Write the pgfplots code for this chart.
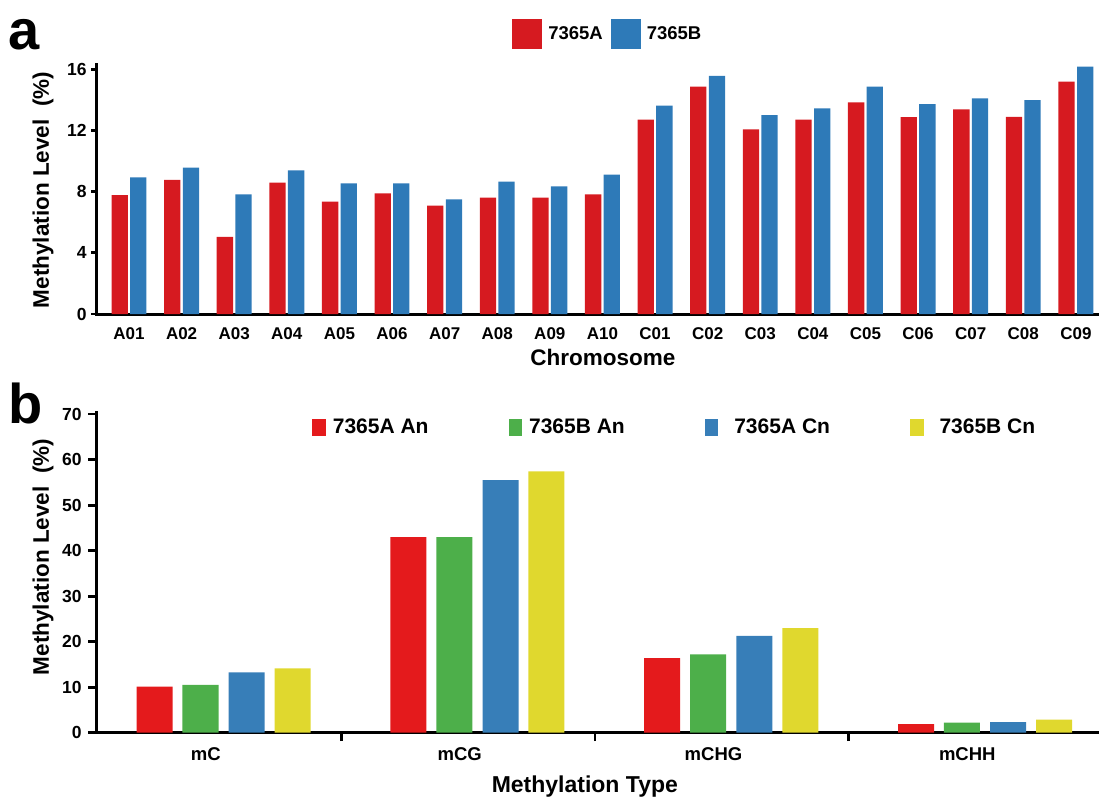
\documentclass[border=0pt]{standalone}
\usepackage{fontspec}
\setmainfont{Liberation Sans}
\usepackage{pgfplots}
\pgfplotsset{compat=1.18}
\definecolor{topred}{RGB}{214,26,32}
\definecolor{topblue}{RGB}{46,122,184}
\definecolor{bred}{RGB}{228,26,28}
\definecolor{bgreen}{RGB}{77,175,74}
\definecolor{bblue}{RGB}{55,126,184}
\definecolor{byellow}{RGB}{224,216,46}
\newcommand{\fs}[1]{\fontsize{#1}{#1}\selectfont\bfseries}
\begin{document}
\begin{tikzpicture}
\useasboundingbox (0,0) rectangle (1099pt,-797pt);
\node[anchor=base west, inner sep=0pt, font=\fs{56}] at (8pt,-49.5pt) {a};
\node[anchor=base west, inner sep=0pt, font=\fs{56}] at (8pt,-423pt) {b};

% ---------------- panel a ----------------
\begin{axis}[
  at={(96.7pt,-314pt)}, anchor=south west,
  scale only axis, width=1002.3pt, height=250pt,
  xmin=-0.614, xmax=18.44, ymin=0, ymax=16.35,
  axis lines*=left,
  axis line style={line width=3pt, line cap=rect},
  ytick={0,4,8,12,16},
  xtick={0,...,18},
  xticklabels={A01,A02,A03,A04,A05,A06,A07,A08,A09,A10,C01,C02,C03,C04,C05,C06,C07,C08,C09},
  every tick/.style={line width=2.8pt, black},
  xtick style={draw=none},
  tick align=outside, major tick length=5.5pt,
  /pgf/number format/assume math mode=true,
  yticklabel style={font=\fs{17.5}, xshift=-1pt},
  xticklabel style={font=\fs{17}, yshift=-5pt},
  xlabel={Chromosome},
  xlabel style={at={(axis description cs:0.505,-0.172)}, anchor=center, font=\fs{22.5}},
  ylabel={Methylation Level~~(\%)},
  ylabel style={at={(axis description cs:-0.0536,0.496)}, anchor=center, rotate=0, font=\fs{22.5}},
  ybar, bar width=0.31,
  legend columns=2,
  legend image code/.code={\fill[#1,draw=none] (0pt,-15pt) rectangle (30pt,15pt);},
  legend style={at={(axis description cs:0.4146,1.12)}, anchor=west, draw=none, fill=none,
    inner sep=0pt, outer sep=0pt, font=\fs{18.5},
    nodes={inner sep=0pt}, cells={anchor=west},
    /tikz/every odd column/.append style={column sep=6pt},
    /tikz/every even column/.append style={column sep=8pt}},
]
\addplot[fill=topred, draw=none, bar shift=-0.177] coordinates {
(0,7.78) (1,8.77) (2,5.04) (3,8.60) (4,7.35) (5,7.89) (6,7.08) (7,7.61) (8,7.61) (9,7.83)
(10,12.72) (11,14.87) (12,12.08) (13,12.72) (14,13.84) (15,12.87) (16,13.38) (17,12.89) (18,15.20)};
\addplot[fill=topblue, draw=none, bar shift=0.177] coordinates {
(0,8.93) (1,9.58) (2,7.83) (3,9.39) (4,8.55) (5,8.55) (6,7.50) (7,8.66) (8,8.35) (9,9.12)
(10,13.62) (11,15.57) (12,13.00) (13,13.44) (14,14.87) (15,13.73) (16,14.10) (17,13.99) (18,16.18)};
\legend{7365A,7365B}
\end{axis}

% ---------------- panel b ----------------
\begin{axis}[
  at={(96.7pt,-732.7pt)}, anchor=south west,
  scale only axis, width=1002.3pt, height=320pt,
  xmin=-0.5, xmax=3.449, ymin=0, ymax=70.3,
  axis lines*=left,
  axis line style={line width=3pt, line cap=rect},
  ytick={0,10,...,70},
  xtick={0.463,1.463,2.463},
  xticklabels={},
  extra x ticks={-0.07,0.93,1.93,2.93},
  extra x tick labels={mC,mCG,mCHG,mCHH},
  extra x tick style={major tick length=0pt, xtick style={draw=none}, xticklabel style={yshift=-11pt}},
  every tick/.style={line width=2.8pt, black},
  tick align=outside, major tick length=8.5pt,
  /pgf/number format/assume math mode=true,
  yticklabel style={font=\fs{17.5}, xshift=-3pt},
  xticklabel style={font=\fs{18.5}},
  xlabel={Methylation Type},
  xlabel style={at={(axis description cs:0.487,-0.168)}, anchor=center, font=\fs{23}},
  ylabel={Methylation Level~~(\%)},
  ylabel style={at={(axis description cs:-0.0536,0.549)}, anchor=center, rotate=0, font=\fs{22.5}},
  ybar, bar width=0.142,
  legend columns=4,
  legend image code/.code={\fill[#1,draw=none] (0pt,-8.5pt) rectangle (13.5pt,8.5pt);},
  legend style={at={(axis description cs:0.2152,0.9553)}, anchor=west, draw=none, fill=none,
    inner sep=0pt, outer sep=0pt, font=\fs{21},
    nodes={inner sep=0pt}, cells={anchor=west},
    /tikz/every odd column/.append style={column sep=7pt},
    /tikz/every even column/.append style={column sep=80pt}},
]
\addplot[fill=bred, draw=none, bar shift=-0.272] coordinates {(0,10.15) (1,42.95) (2,16.4) (3,1.9)};
\addplot[fill=bgreen, draw=none, bar shift=-0.091] coordinates {(0,10.5) (1,42.95) (2,17.2) (3,2.2)};
\addplot[fill=bblue, draw=none, bar shift=0.091] coordinates {(0,13.26) (1,55.5) (2,21.3) (3,2.3)};
\addplot[fill=byellow, draw=none, bar shift=0.272] coordinates {(0,14.15) (1,57.4) (2,23.0) (3,2.9)};
\legend{7365A An,7365B An,\hspace*{9pt}7365A Cn,\hspace*{9pt}7365B Cn}
\end{axis}
\end{tikzpicture}
\end{document}
